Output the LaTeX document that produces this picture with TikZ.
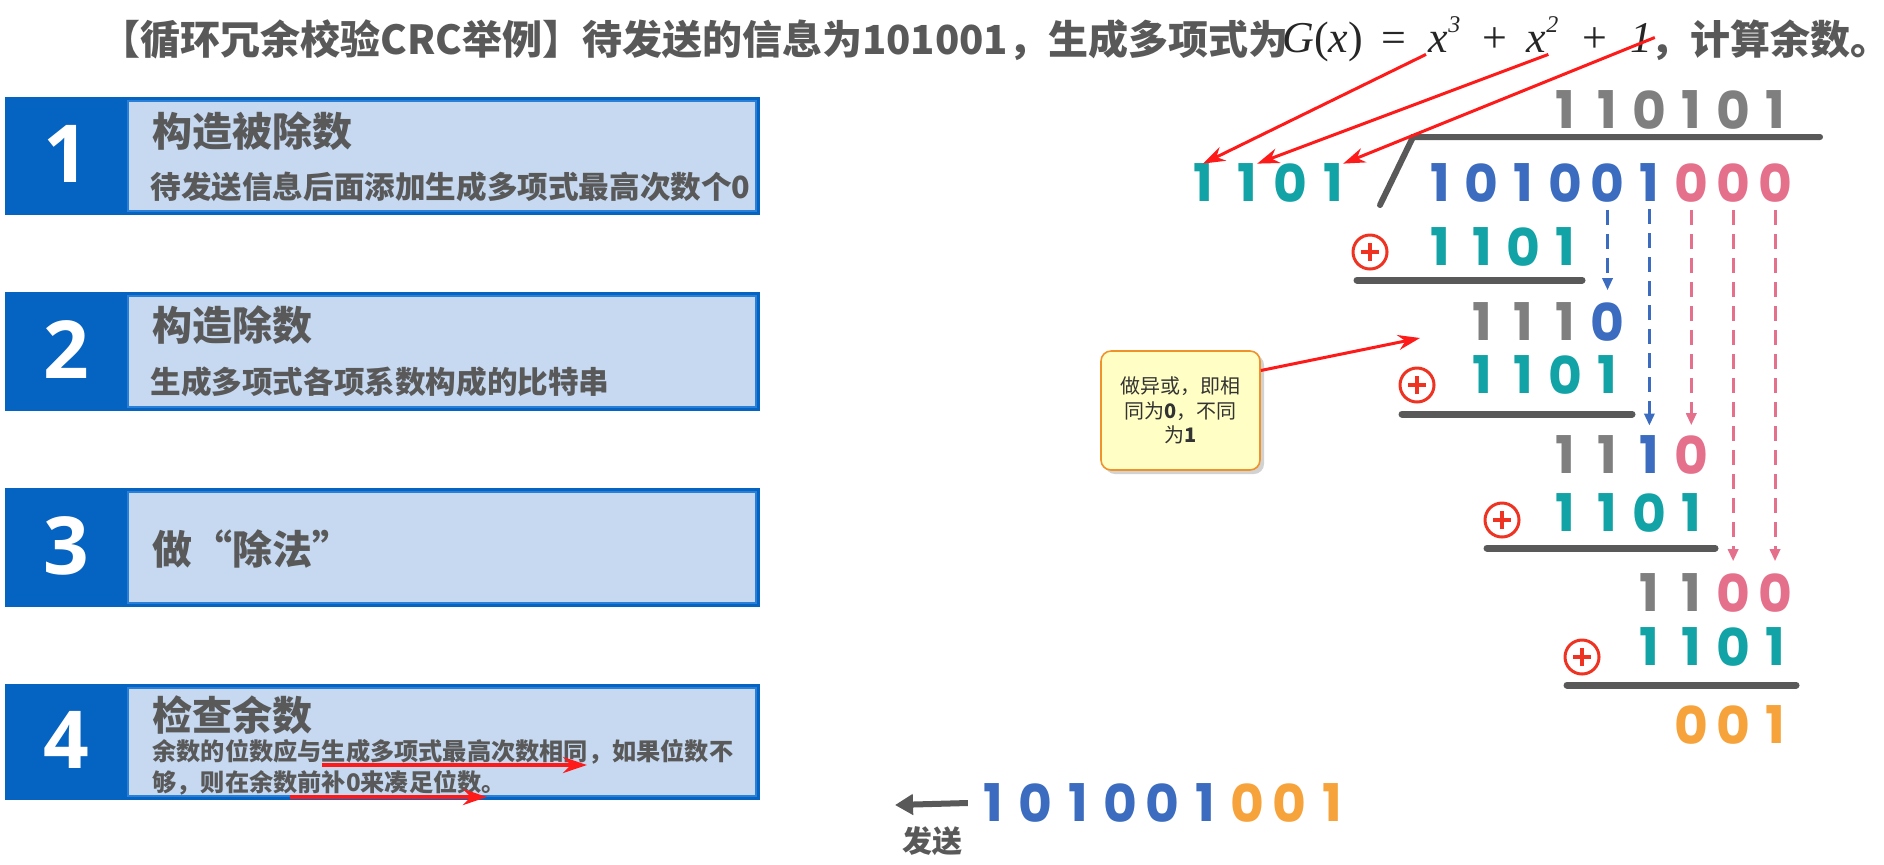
\documentclass[tikz,border=0pt]{standalone}
\usepackage{fontspec}
\usetikzlibrary{arrows.meta,shadows}
\newfontfamily\cjk{Noto Sans CJK SC}
\newfontfamily\digf{Poppins}
\newfontfamily\numf{Open Sans}
\newfontfamily\serf{Liberation Serif}
\definecolor{tgray}{HTML}{595959}
\definecolor{dblue}{HTML}{0563C1}
\definecolor{lblue}{HTML}{C6D9F1}
\definecolor{bblue}{HTML}{2A7FD9}
\definecolor{cteal}{HTML}{12A3A6}
\definecolor{cblue}{HTML}{3B6CBF}
\definecolor{cpink}{HTML}{E5708C}
\definecolor{cgray}{HTML}{7F7F7F}
\definecolor{corange}{HTML}{F7A33C}
\definecolor{cbar}{HTML}{595959}
\definecolor{cred}{HTML}{FF1A1A}
\definecolor{cxor}{HTML}{EE3322}
\definecolor{cyel}{HTML}{FFFFC5}
\definecolor{corg}{HTML}{F0922A}
\definecolor{ctext}{HTML}{333333}
\definecolor{mathc}{HTML}{262626}
\tikzset{
  dig/.style={font=\digf\bfseries\fontsize{26pt}{26pt}\selectfont, inner sep=0pt},
  boxnum/.style={font=\numf\bfseries\fontsize{40pt}{40pt}\selectfont, text=white, inner sep=0pt},
  titletxt/.style={font=\cjk\bfseries\fontsize{20pt}{24pt}\selectfont, text=tgray, inner sep=0pt},
  headtxt/.style={font=\cjk\bfseries\fontsize{20pt}{24pt}\selectfont, text=tgray, anchor=west, inner sep=0pt},
  subtxt/.style={font=\cjk\bfseries\fontsize{15.3pt}{18pt}\selectfont, text=tgray, anchor=west, inner sep=0pt},
  bodytxt/.style={font=\cjk\bfseries\fontsize{12.1pt}{14pt}\selectfont, text=tgray, anchor=west, inner sep=0pt},
  mth/.style={font=\serf\fontsize{22pt}{22pt}\selectfont, text=mathc, inner sep=1pt},
  supx/.style={font=\serf\itshape\fontsize{12pt}{12pt}\selectfont, text=mathc, inner sep=0pt, anchor=base west},
  xorc/.style={circle, draw=cxor, line width=1.5pt, minimum size=17pt, inner sep=0pt,
    path picture={\draw[cxor,line width=1.6pt]
      ([xshift=-4.5pt]path picture bounding box.center) -- ([xshift=4.5pt]path picture bounding box.center)
      ([yshift=-4.5pt]path picture bounding box.center) -- ([yshift=4.5pt]path picture bounding box.center);}},
  redarr/.style={draw=cred, line width=1.5pt, -{Stealth[length=11pt,width=7.5pt]}},
  redarrb/.style={draw=cred, line width=2pt, -{Stealth[length=12pt,width=8pt]}},
  bdash/.style={draw=cblue, line width=1.5pt, dash pattern=on 7.5pt off 4.5pt, -{Triangle[length=6pt,width=5pt]}},
  pdash/.style={draw=cpink, line width=1.5pt, dash pattern=on 7.5pt off 4.5pt, -{Triangle[length=6pt,width=5pt]}},
  barline/.style={draw=cbar, line width=3pt, line cap=round},
  uline/.style={draw=cbar, line width=3.5pt, line cap=round},
  sendarr/.style={draw=cbar, line width=3pt, -{Triangle[length=9pt,width=10pt]}},
  callout/.style={rounded corners=5pt, draw=corg, line width=0.8pt, fill=cyel,
    minimum width=79.5pt, minimum height=59.5pt, align=center, inner sep=2pt,
    font=\cjk\fontsize{10pt}{12.25pt}\selectfont, text=ctext,
    drop shadow={opacity=0.35, shadow xshift=2pt, shadow yshift=-2pt}}
}
\begin{document}
\begin{tikzpicture}[x=0.5pt,y=-0.5pt]
\useasboundingbox (0,0) rectangle (1884,864);
\fill[white] (0,0) rectangle (1884,864);

% title
\node[titletxt, anchor=west] (ttl) at (100,40) {【循环冗余校验CRC举例】待发送的信息为101001，生成多项式为};
\node[mth, anchor=base west] (gx) at (1280,52) {\textit{G}(\textit{x})};
\node[mth, anchor=base] (eq) at (1394,52) {=};
\node[mth, anchor=base west] (x3) at (1426,52) {\textit{x}};
\node[supx] (e3) at (1448,32) {3};
\node[mth, anchor=base] (pl1) at (1495,52) {+};
\node[mth, anchor=base west] (x2) at (1524,52) {\textit{x}};
\node[supx] (e2) at (1546,32) {2};
\node[mth, anchor=base] (pl2) at (1595,52) {+};
\node[mth, anchor=base west] (one) at (1628,52) {\textit{1}};
\node[titletxt, anchor=west] (ttl2) at (1650,40) {，计算余数。};

% left boxes
\foreach \t/\b/\n in {97/215/1, 292/411/2, 488/607/3, 684/800/4}{
  \fill[dblue] (5,\t) rectangle (760,\b);
  \filldraw[fill=lblue, draw=bblue, line width=1pt] (128,\t+4) rectangle (756,\b-4);
  \node[boxnum] (n\n) at (66,{(\t+\b)/2-2}) {\n};
}
\node[headtxt] (h1) at (152,131) {构造被除数};
\node[subtxt] (t1) at (150,187) {待发送信息后面添加生成多项式最高次数个0};
\node[headtxt] (h2) at (152,325) {构造除数};
\node[subtxt] (t2) at (150,382) {生成多项式各项系数构成的比特串};
\node[headtxt] (h3) at (152,549) {做“除法”};
\node[headtxt] (h4) at (152,715) {检查余数};
\node[bodytxt] (l1) at (152,752) {余数的位数应与生成多项式最高次数相同，如果位数不};
\node[bodytxt] (l2) at (152,783) {够，则在余数前补0来凑足位数。};
\coordinate (u1a) at (322,765); \coordinate (u1b) at (587,765);
\coordinate (u2a) at (290,797); \coordinate (u2b) at (487,797);
\draw[redarrb] (u1a) -- (u1b);
\draw[redarrb] (u2a) -- (u2b);

% division
\foreach \d [count=\i from 4] in {1,1,0,1,0,1}
  \node[dig,text=cgray] (q\i) at ({1440+(\i-1)*41.875},110) {\d};
\draw[barline] (1820,137) -- (1413,137) -- (1380,205);
\foreach \d/\x [count=\i] in {1/1203,1/1247,0/1290,1/1333}
  \node[dig,text=cteal] (v\i) at (\x,183) {\d};
\foreach \d/\c [count=\i] in {1/cblue,0/cblue,1/cblue,0/cblue,0/cblue,1/cblue,0/cpink,0/cpink,0/cpink}
  \node[dig,text=\c] (d\i) at ({1440+(\i-1)*41.875},183) {\d};

% row 2
\node[xorc] (o1) at (1370,252) {};
\foreach \d [count=\i] in {1,1,0,1}
  \node[dig,text=cteal] (r2-\i) at ({1440+(\i-1)*41.875},247) {\d};
\draw[uline] (1357,280) -- (1582,280);
% row 3
\foreach \d/\c [count=\i] in {1/cgray,1/cgray,1/cgray,0/cblue}
  \node[dig,text=\c] (r3-\i) at ({1440+\i*41.875},322) {\d};
% row 4
\node[xorc] (o2) at (1417,385) {};
\foreach \d [count=\i] in {1,1,0,1}
  \node[dig,text=cteal] (r4-\i) at ({1440+\i*41.875},375) {\d};
\draw[uline] (1402,414) -- (1632,414);
% row 5
\foreach \d/\c [count=\i] in {1/cgray,1/cgray,1/cblue,0/cpink}
  \node[dig,text=\c] (r5-\i) at ({1440+(\i+2)*41.875},455) {\d};
% row 6
\node[xorc] (o3) at (1502,520) {};
\foreach \d [count=\i] in {1,1,0,1}
  \node[dig,text=cteal] (r6-\i) at ({1440+(\i+2)*41.875},513) {\d};
\draw[uline] (1487,548) -- (1715,548);
% row 7
\foreach \d/\c [count=\i] in {1/cgray,1/cgray,0/cpink,0/cpink}
  \node[dig,text=\c] (r7-\i) at ({1440+(\i+4)*41.875},593) {\d};
% row 8
\node[xorc] (o4) at (1582,657) {};
\foreach \d [count=\i] in {1,1,0,1}
  \node[dig,text=cteal] (r8-\i) at ({1440+(\i+4)*41.875},647) {\d};
\draw[uline] (1567,685) -- (1796,685);
% row 9
\foreach \d [count=\i] in {0,0,1}
  \node[dig,text=corange] (r9-\i) at ({1440+(\i+5)*41.875},725) {\d};

% dashed arrows
\draw[bdash] ([yshift=-3.5pt]d5.south) -- ([yshift=6pt]r3-4.north);
\draw[bdash] ([yshift=-3.5pt]d6.south) -- ([yshift=5pt]r5-3.north);
\draw[pdash] ([yshift=-3.5pt]d7.south) -- ([yshift=5pt]r5-4.north);
\draw[pdash] ([yshift=-3.5pt]d8.south) -- ([yshift=6pt]r7-3.north);
\draw[pdash] ([yshift=-3.5pt]d9.south) -- ([yshift=6pt]r7-4.north);

% red arrows from polynomial
\draw[redarr] (x3.south west) -- (v1.north);
\draw[redarr] (x2.south east) -- (v2.north east);
\draw[redarr] (one.east) -- (v4.north east);

% callout
\node[callout] (cb) at (1180.5,410.5) {做异或，即相\\同为\textbf{0}，不同\\为\textbf{1}};
\coordinate (cend) at (1420,338);
\draw[redarr] ([yshift=20pt]cb.east) -- (cend);

% send row
\foreach \d/\c [count=\i] in {1/cblue,0/cblue,1/cblue,0/cblue,0/cblue,1/cblue,0/corange,0/corange,1/corange}
  \node[dig,text=\c] (s\i) at ({993+(\i-1)*42.4},803) {\d};
\coordinate (send) at (895,805);
\draw[sendarr] ([xshift=-7.5pt]s1.west) -- (send);
\node[titletxt, font=\cjk\bfseries\fontsize{15pt}{18pt}\selectfont] (fs) at (932,841) {发送};
\end{tikzpicture}
\end{document}
